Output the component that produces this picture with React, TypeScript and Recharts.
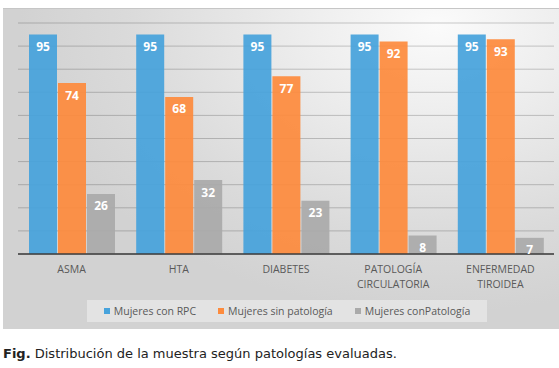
import React from 'react';
import { BarChart, Bar, XAxis, YAxis, CartesianGrid, Legend, LabelList } from 'recharts';

const categories = ['ASMA', 'HTA', 'DIABETES', 'PATOLOGÍA CIRCULATORIA', 'ENFERMEDAD TIROIDEA'];
const mujeresConRPC = [95, 95, 95, 95, 95];
const mujeresSinPatologia = [74, 68, 77, 92, 93];
const mujeresConPatologia = [26, 32, 23, 8, 7];
const seriesNames = ['Mujeres con RPC', 'Mujeres sin patología', 'Mujeres conPatología'];
const seriesColors = ['#47a3dc', '#fd8b3d', '#aaaaaa'];
const yTicks = [0, 10, 20, 30, 40, 50, 60, 70, 80, 90, 100];
const caption = 'Distribución de la muestra según patologías evaluadas.';

const data = categories.map((cat, i) => ({
  cat,
  a: mujeresConRPC[i],
  b: mujeresSinPatologia[i],
  c: mujeresConPatologia[i],
}));

const FONT = '"Open Sans", sans-serif';

const CatTick = (props: any) => {
  const { x, y, payload } = props;
  const lines: string[] = String(payload.value).split(' ');
  return (
    <text x={x} y={y} textAnchor="middle" fill="#595959" fontSize={10.5} fontFamily={FONT}>
      {lines.map((l, i) => (
        <tspan key={i} x={x} dy={i === 0 ? 19 : 15}>
          {l}
        </tspan>
      ))}
    </text>
  );
};

const LegendContent = (props: any) => {
  const payload = [...(props.payload || [])].sort(
    (p: any, q: any) => seriesNames.indexOf(p.value) - seriesNames.indexOf(q.value)
  );
  return (
    <div
      style={{
        width: 400,
        height: 22,
        background: 'rgba(240,240,240,0.55)',
        display: 'flex',
        alignItems: 'center',
        justifyContent: 'center',
        fontFamily: FONT,
        fontSize: 10.5,
        color: '#595959',
        boxSizing: 'border-box',
      }}
    >
      {payload.map((p: any, i: number) => (
        <span
          key={i}
          style={{ display: 'flex', alignItems: 'center', marginRight: i < payload.length - 1 ? 22 : 0, whiteSpace: 'nowrap' }}
        >
          <span style={{ width: 6, height: 6, background: p.color, display: 'inline-block', marginRight: 4 }} />
          {p.value}
        </span>
      ))}
    </div>
  );
};

export default function App() {
  return (
    <div style={{ position: 'absolute', left: 0, top: 0, width: 559, height: 368, background: '#ffffff' }}>
      <div
        style={{
          position: 'absolute',
          left: 3,
          top: 8,
          width: 556,
          height: 321,
          background:
            'radial-gradient(ellipse 75% 90% at 78% 5%, #fbfbfb 0%, #ececec 35%, #dadada 75%, #d2d2d2 100%)',
          borderTop: '1px solid #c6c6c6',
          boxSizing: 'border-box',
        }}
      >
        <BarChart
          width={556}
          height={320}
          data={data}
          margin={{ top: 14, right: 5, left: 15, bottom: 7 }}
          barSize={28}
          barGap={1}
        >
          <CartesianGrid vertical={false} stroke="rgba(0,0,0,0.2)" strokeWidth={1} />
          <YAxis hide domain={[0, 100]} ticks={yTicks} />
          <XAxis
            dataKey="cat"
            height={46}
            tickLine={false}
            tickSize={0}
            tickMargin={0}
            interval={0}
            axisLine={{ stroke: '#3c3c3c', strokeWidth: 1.5 }}
            tick={<CatTick />}
          />
          <Legend
            verticalAlign="bottom"
            content={<LegendContent />}
            wrapperStyle={{ left: 84, width: 400, height: 22 }}
          />
          <Bar dataKey="a" name={seriesNames[0]} fill={seriesColors[0]} fillOpacity={0.93} isAnimationActive={false}>
            <LabelList dataKey="a" position="insideTop" offset={8} fill="#ffffff" fontSize={12} fontWeight={700} fontFamily={FONT} />
          </Bar>
          <Bar dataKey="b" name={seriesNames[1]} fill={seriesColors[1]} fillOpacity={0.93} isAnimationActive={false}>
            <LabelList dataKey="b" position="insideTop" offset={8} fill="#ffffff" fontSize={12} fontWeight={700} fontFamily={FONT} />
          </Bar>
          <Bar dataKey="c" name={seriesNames[2]} fill={seriesColors[2]} fillOpacity={0.93} isAnimationActive={false}>
            <LabelList dataKey="c" position="insideTop" offset={8} fill="#ffffff" fontSize={12} fontWeight={700} fontFamily={FONT} />
          </Bar>
        </BarChart>
      </div>
      <div
        style={{
          position: 'absolute',
          left: 3,
          top: 346,
          fontFamily: '"DejaVu Sans", Verdana, sans-serif',
          fontSize: 13,
          lineHeight: '15px',
          color: '#222222',
          whiteSpace: 'nowrap',
        }}
      >
        <b>Fig.</b> {caption}
      </div>
    </div>
  );
}
